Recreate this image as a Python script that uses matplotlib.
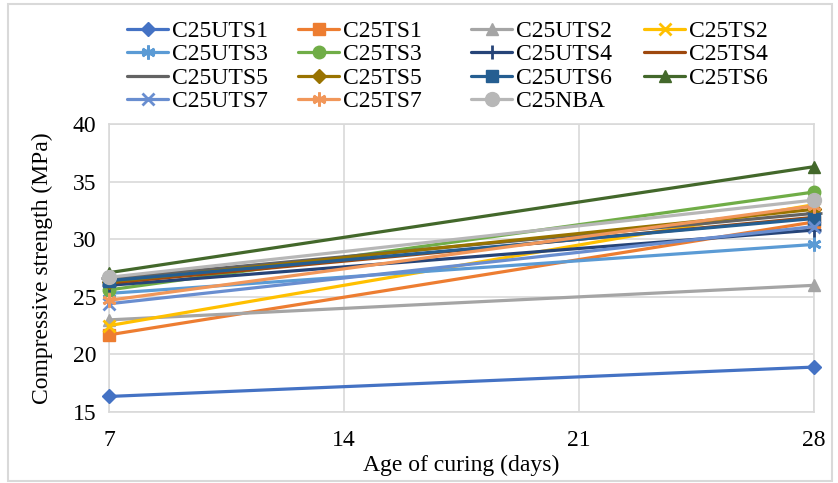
import matplotlib.pyplot as plt
from matplotlib.patches import Rectangle

# curing ages (days) and compressive strength (MPa) at 7 and 28 days
days = [7, 28]

c25uts1 = [16.35, 18.9]
c25ts1 = [21.7, 31.5]
c25uts2 = [23.0, 26.0]
c25ts2 = [22.5, 33.0]
c25uts3 = [25.3, 29.55]
c25ts3 = [25.6, 34.1]
c25uts4 = [26.0, 30.8]
c25ts4 = [26.2, 31.9]
c25uts5 = [26.6, 32.25]
c25ts5 = [26.3, 32.6]
c25uts6 = [26.4, 31.8]
c25ts6 = [27.1, 36.3]
c25uts7 = [24.4, 31.1]
c25ts7 = [24.7, 32.9]
c25nba = [26.7, 33.4]

x_ticks = [7, 14, 21, 28]
y_ticks = [15, 20, 25, 30, 35, 40]

plt.rcParams['font.family'] = 'serif'
plt.rcParams['font.serif'] = ['Liberation Serif', 'DejaVu Serif']

asterisk = (6, 2, 0)
series = [
    # name, values, color, marker, marker size
    ("C25UTS1", c25uts1, "#4472C4", "D", 7),
    ("C25TS1", c25ts1, "#ED7D31", "s", 8),
    ("C25UTS2", c25uts2, "#A5A5A5", "^", 8),
    ("C25TS2", c25ts2, "#FFC000", "x", 9),
    ("C25UTS3", c25uts3, "#5B9BD5", asterisk, 10),
    ("C25TS3", c25ts3, "#70AD47", "o", 9),
    ("C25UTS4", c25uts4, "#264478", "+", 10),
    ("C25TS4", c25ts4, "#9E480E", "_", 9),
    ("C25UTS5", c25uts5, "#636363", "_", 12),
    ("C25TS5", c25ts5, "#997300", "D", 7),
    ("C25UTS6", c25uts6, "#255E91", "s", 9),
    ("C25TS6", c25ts6, "#43682B", "^", 9),
    ("C25UTS7", c25uts7, "#698ED0", "x", 9),
    ("C25TS7", c25ts7, "#F1975A", asterisk, 10),
    ("C25NBA", c25nba, "#B7B7B7", "o", 10),
]

fig = plt.figure(figsize=(8.38, 4.83), dpi=100)
ax = fig.add_axes([0.130, 0.147, 0.841, 0.596])

handles = {}
for name, vals, col, mk, ms in series:
    line, = ax.plot(days, vals, color=col, linewidth=2.3, marker=mk,
                    markersize=ms, markeredgewidth=2 if mk in ("x", "+", "_", asterisk) else 1,
                    markeredgecolor=col, markerfacecolor=col, label=name,
                    solid_capstyle='round', clip_on=False, zorder=3)
    handles[name] = line

ax.set_xlim(7, 28)
ax.set_ylim(15, 40)
ax.set_xticks(x_ticks)
ax.set_yticks(y_ticks)
ax.tick_params(length=0, labelsize=17, colors='black')
ax.tick_params(axis='x', pad=13)
ax.tick_params(axis='y', pad=9)
ax.grid(True, color='#D9D9D9', linewidth=1.2)
ax.set_axisbelow(True)
for sp in ax.spines.values():
    sp.set_color('#D9D9D9')
    sp.set_linewidth(1.2)

ax.set_xlabel("Age of curing (days)", fontsize=17, labelpad=3)
ax.set_ylabel("Compressive strength (MPa)", fontsize=17, labelpad=14)

# legend laid out row by row in four equal-width columns
columns = [
    ["C25UTS1", "C25UTS3", "C25UTS5", "C25UTS7"],
    ["C25TS1", "C25TS3", "C25TS5", "C25TS7"],
    ["C25UTS2", "C25UTS4", "C25UTS6", "C25NBA"],
    ["C25TS2", "C25TS4", "C25TS6"],
]
col_x = [127, 298, 471, 644]
for names, x0 in zip(columns, col_x):
    fig.legend([handles[n] for n in names], names, loc='upper left',
               bbox_to_anchor=(x0 / 838, 0.958), frameon=False, fontsize=17,
               handlelength=1.74, handletextpad=0.17, labelspacing=0.085,
               borderpad=0.0, borderaxespad=0.0)

# outer chart border
fig.patches.append(Rectangle((8 / 838, 2 / 483), 824 / 838, 477 / 483,
                             transform=fig.transFigure, fill=False,
                             edgecolor='#D9D9D9', linewidth=1.5))

fig.savefig("out.png", dpi=100, facecolor='white')
